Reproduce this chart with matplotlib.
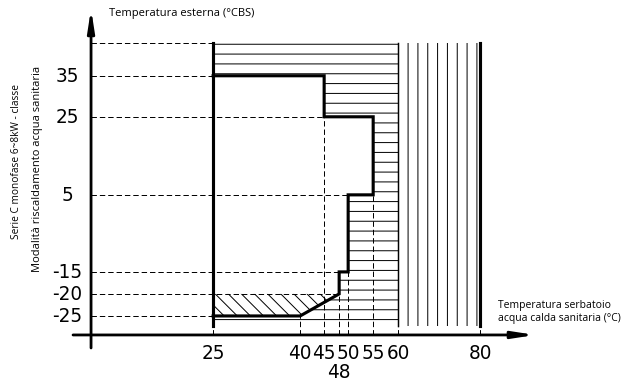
import numpy as np
import matplotlib.pyplot as plt

# chart values
x_ticks = [25, 40, 45, 48, 50, 55, 60, 80]
y_ticks = [35, 25, 5, -15, -20, -25]
y_top = 43        # upper edge of the drawn area (unlabelled)
y_floor = -27.3   # lower edge of the drawn area (unlabelled)

# operating envelope (thick outline)
env_x = [25, 45, 45, 55, 55, 50, 50, 48, 48, 40, 25]
env_y = [35, 35, 25, 25, 5, 5, -15, -15, -20, -25, -25]

# dashed guides: horizontal ones stop at guide_x_end, vertical ones start at vguide_y
guide_y = [y_top, 35, 25, 5, -15, -20, -25]
guide_x_end = [25, 25, 45, 50, 48, 48, 25]
vguide_x = [25, 40, 45, 48, 50, 55, 60, 80]
vguide_y = [y_floor, -25, 25, -15, 5, 5, y_floor, y_floor]

# diagonal hatched zone
diag_x = [25, 48, 40, 25]
diag_y = [-20, -20, -25, -25]

# layout: pixel position of each tick on the (non uniform) drawing
W, H, DPI = 637, 385, 118
x_pix = [213, 300, 324, 339, 348, 373, 398, 480]
y_pix = [316, 294, 272, 195, 117, 76]
y_vals_sorted = [-25, -20, -15, 5, 25, 35]


def piecewise(a, b):
    a = np.asarray(a, float)
    b = np.asarray(b, float)

    def f(v):
        v = np.asarray(v, float)
        out = np.interp(v, a, b)
        lo = v < a[0]
        hi = v > a[-1]
        out = np.where(lo, b[0] + (v - a[0]) * (b[1] - b[0]) / (a[1] - a[0]), out)
        out = np.where(hi, b[-1] + (v - a[-1]) * (b[-1] - b[-2]) / (a[-1] - a[-2]), out)
        return out
    return f


x_fwd = piecewise(x_ticks, x_pix)
x_inv = piecewise(x_pix, x_ticks)
ypos = [H - p for p in y_pix]
y_fwd = piecewise(y_vals_sorted, ypos)
y_inv = piecewise(ypos, y_vals_sorted)

plt.rcParams['hatch.linewidth'] = 0.6

fig = plt.figure(figsize=((W + 0.3) / DPI, (H + 0.3) / DPI), dpi=DPI)
ax = fig.add_axes([0, 0, 1, 1])
ax.set_xscale('function', functions=(x_fwd, x_inv))
ax.set_yscale('function', functions=(y_fwd, y_inv))
ax.set_xlim(float(x_inv(0)), float(x_inv(W)))
ax.set_ylim(float(y_inv(0)), float(y_inv(H)))
ax.axis('off')


def fx(px):
    return px / W


def fy(py):
    return 1 - py / H


# hatched zones
hx = [25, 60, 60, 25] + env_x[::-1]
hy = [y_top, y_top, y_floor, y_floor] + env_y[::-1]
ax.fill(hx, hy, facecolor='none', edgecolor='black', hatch='--', linewidth=0)
ax.fill([60, 80, 80, 60], [y_top, y_top, y_floor, y_floor], facecolor='none',
        edgecolor='black', hatch='||', linewidth=0)
ax.fill(diag_x, diag_y, facecolor='none', edgecolor='black', hatch='\\\\\\', linewidth=0)

# dashed guides
dash = (0, (5.5, 3))
x_axis_val = float(x_inv(91))
y_axis_val = float(y_inv(H - 335))
for yv, xe in zip(guide_y, guide_x_end):
    ax.plot([x_axis_val, xe], [yv, yv], color='black', lw=0.6, ls=dash)
for xv, yv in zip(vguide_x, vguide_y):
    ax.plot([xv, xv], [y_axis_val, yv], color='black', lw=0.6, ls=dash)

# envelope and limits
ax.plot(env_x, env_y, color='black', lw=1.9, solid_joinstyle='miter')
ax.plot([25, 25], [y_top, y_floor], color='black', lw=1.9)
ax.plot([60, 60], [y_top, y_floor], color='black', lw=0.9)
ax.plot([80, 80], [y_top, y_floor], color='black', lw=1.9)

# axes with arrows
arrow = dict(arrowstyle='-|>,head_length=1.1,head_width=0.17', color='black', lw=1.7,
             shrinkA=0, shrinkB=0, mutation_scale=10)
ax.annotate('', xy=(fx(535), fy(335)), xytext=(fx(73), fy(335)),
            xycoords='axes fraction', arrowprops=arrow)
ax.annotate('', xy=(fx(91), fy(9)), xytext=(fx(91), fy(348)),
            xycoords='axes fraction', arrowprops=arrow)

# tick labels
tick_font = dict(family=['DejaVu Sans'], stretch='condensed', weight='light', fontsize=12.5)
for xv in x_ticks:
    row = 372 if xv == 48 else 353
    ax.text(xv, fy(row), str(xv), transform=ax.get_xaxis_transform(), ha='center',
            va='center', **tick_font)
for yv in y_ticks:
    ax.text(fx(67), yv, str(yv), transform=ax.get_yaxis_transform(), ha='center',
            va='center', **tick_font)

# axis titles
lab_font = ['Open Sans', 'DejaVu Sans']
ax.text(fx(182), fy(13), 'Temperatura esterna (°CBS)', ha='center', va='center',
        fontsize=6.8, family=lab_font, transform=ax.transAxes)
ax.text(fx(498), fy(312), 'Temperatura serbatoio\nacqua calda sanitaria (°C)', ha='left',
        va='center', fontsize=6.3, family=lab_font, linespacing=1.2, transform=ax.transAxes)
ax.text(fx(37), fy(169), 'Modalità riscaldamento acqua sanitaria', rotation=90,
        ha='center', va='center', fontsize=6.8, family=lab_font, transform=ax.transAxes)
ax.text(fx(16), fy(161), 'Serie C monofase 6~8kW - classe', rotation=90,
        ha='center', va='center', fontsize=6.2, family=lab_font, transform=ax.transAxes)

fig.savefig('out.png', dpi=DPI)
